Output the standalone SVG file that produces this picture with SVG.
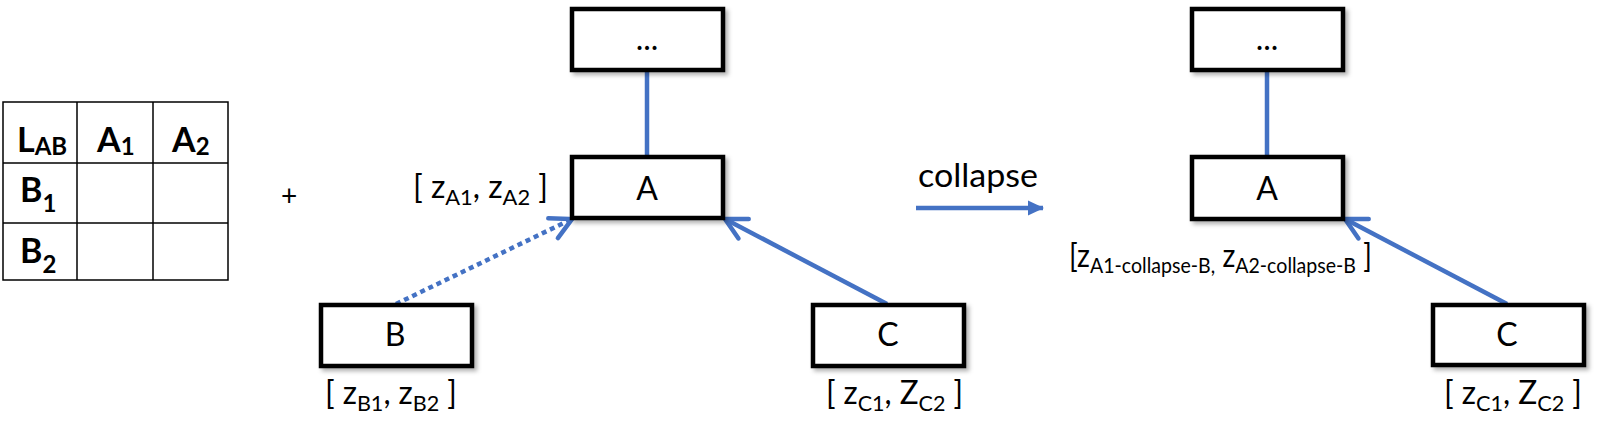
<svg xmlns="http://www.w3.org/2000/svg" width="1603" height="441" viewBox="0 0 1603 441">
  <style>
    .box { fill: #ffffff; stroke: #000000; stroke-width: 4.5; filter: url(#shadow); }
    .lbl { font-family: Lato, "Open Sans", sans-serif; font-size: 32px; fill: #000; text-anchor: middle; }
    .vec { font-family: Lato, "Open Sans", sans-serif; font-size: 32px; fill: #000; }
    .sub { font-size: 22px; }
    .tbl { font-family: Lato, "Open Sans", sans-serif; font-weight: bold; font-size: 34px; fill: #000; }
    .tsub { font-size: 24px; }
    .grid { stroke: #000; stroke-width: 1.5; fill: none; }
    .conn { stroke: #4472C4; stroke-width: 4.5; fill: none; }
    .dot { stroke-dasharray: 5 4; }
  </style>
  <defs>
    <filter id="shadow" x="-10%" y="-20%" width="130%" height="150%">
      <feDropShadow dx="3" dy="3" stdDeviation="2" flood-color="#000" flood-opacity="0.3"/>
    </filter>
    <marker id="open" markerUnits="userSpaceOnUse" markerWidth="40" markerHeight="40" refX="0" refY="0" orient="auto" overflow="visible">
      <path d="M -21 -11 L 0 0 L -21 11" fill="none" stroke="#4472C4" stroke-width="4.5" stroke-linecap="round" stroke-linejoin="miter"/>
    </marker>
    <marker id="solid" markerUnits="userSpaceOnUse" markerWidth="40" markerHeight="40" refX="0" refY="0" orient="auto" overflow="visible">
      <path d="M -15 -7.5 L 1 0 L -15 7.5 Z" fill="#4472C4"/>
    </marker>
  </defs>

  <!-- Table -->
  <g id="table">
    <rect class="grid" x="3" y="102" width="225" height="178"/>
    <line class="grid" x1="77" y1="102" x2="77" y2="280"/>
    <line class="grid" x1="153" y1="102" x2="153" y2="280"/>
    <line class="grid" x1="3" y1="163" x2="228" y2="163"/>
    <line class="grid" x1="3" y1="223" x2="228" y2="223"/>
    <text class="tbl" x="17" y="152">L<tspan class="tsub" dy="3">AB</tspan></text>
    <text class="tbl" x="97" y="152">A<tspan class="tsub" dy="3">1</tspan></text>
    <text class="tbl" x="172" y="152">A<tspan class="tsub" dy="3">2</tspan></text>
    <text class="tbl" x="20" y="202">B<tspan class="tsub" dy="10">1</tspan></text>
    <text class="tbl" x="20" y="263">B<tspan class="tsub" dy="10">2</tspan></text>
  </g>

  <text id="plus" x="289" y="206" font-family="Lato, 'Open Sans', sans-serif" font-size="28" text-anchor="middle">+</text>

  <!-- Connectors -->
  <g id="connectors">
    <line class="conn" x1="647" y1="69" x2="647" y2="157"/>
    <line class="conn" x1="887" y1="304" x2="725" y2="219" marker-end="url(#open)"/>
    <line class="conn dot" x1="396" y1="304" x2="572" y2="219" marker-end="url(#open)"/>
    <line class="conn" x1="916" y1="208" x2="1043" y2="208" marker-end="url(#solid)"/>
    <line class="conn" x1="1267" y1="69" x2="1267" y2="157"/>
    <line class="conn" x1="1507" y1="304" x2="1345" y2="219" marker-end="url(#open)"/>
  </g>

  <!-- Left tree -->
  <g id="node-top1">
    <rect class="box" x="572" y="9" width="151" height="61"/>
    <text class="lbl" x="647" y="50">...</text>
  </g>
  <g id="node-A1">
    <rect class="box" x="572" y="157" width="151" height="61"/>
    <text class="lbl" x="647" y="200">A</text>
  </g>
  <g id="node-B">
    <rect class="box" x="321" y="305" width="151" height="61"/>
    <text class="lbl" x="395" y="346">B</text>
  </g>
  <g id="node-C1">
    <rect class="box" x="813" y="305" width="151" height="61"/>
    <text class="lbl" x="888" y="346">C</text>
  </g>

  <!-- Right tree -->
  <g id="node-top2">
    <rect class="box" x="1192" y="9" width="151" height="61"/>
    <text class="lbl" x="1267" y="50">...</text>
  </g>
  <g id="node-A2">
    <rect class="box" x="1192" y="157" width="151" height="62"/>
    <text class="lbl" x="1267" y="200">A</text>
  </g>
  <g id="node-C2">
    <rect class="box" x="1433" y="305" width="151" height="60"/>
    <text class="lbl" x="1507" y="346">C</text>
  </g>

  <!-- Labels -->
  <text class="vec" x="413" y="198" textLength="135" lengthAdjust="spacingAndGlyphs">[ z<tspan class="sub" dy="7">A1</tspan><tspan dy="-7">, z</tspan><tspan class="sub" dy="7">A2</tspan><tspan dy="-7"> ]</tspan></text>
  <text class="vec" x="325" y="404" textLength="132" lengthAdjust="spacingAndGlyphs">[ z<tspan class="sub" dy="7">B1</tspan><tspan dy="-7">, z</tspan><tspan class="sub" dy="7">B2</tspan><tspan dy="-7"> ]</tspan></text>
  <text class="vec" x="826" y="404" textLength="137" lengthAdjust="spacingAndGlyphs">[ z<tspan class="sub" dy="7">C1</tspan><tspan dy="-7">, Z</tspan><tspan class="sub" dy="7">C2</tspan><tspan dy="-7"> ]</tspan></text>
  <text class="vec" x="1444" y="404" textLength="138" lengthAdjust="spacingAndGlyphs">[ z<tspan class="sub" dy="7">C1</tspan><tspan dy="-7">, Z</tspan><tspan class="sub" dy="7">C2</tspan><tspan dy="-7"> ]</tspan></text>
  <text class="vec" x="1069" y="267" font-size="30" textLength="303" lengthAdjust="spacingAndGlyphs">[z<tspan class="sub" font-size="20" dy="6">A1-collapse-B,</tspan><tspan dy="-6"> z</tspan><tspan class="sub" font-size="20" dy="6">A2-collapse-B</tspan><tspan dy="-6"> ]</tspan></text>
  <text class="vec" x="918" y="187" font-size="33" textLength="120" lengthAdjust="spacingAndGlyphs">collapse</text>
</svg>
